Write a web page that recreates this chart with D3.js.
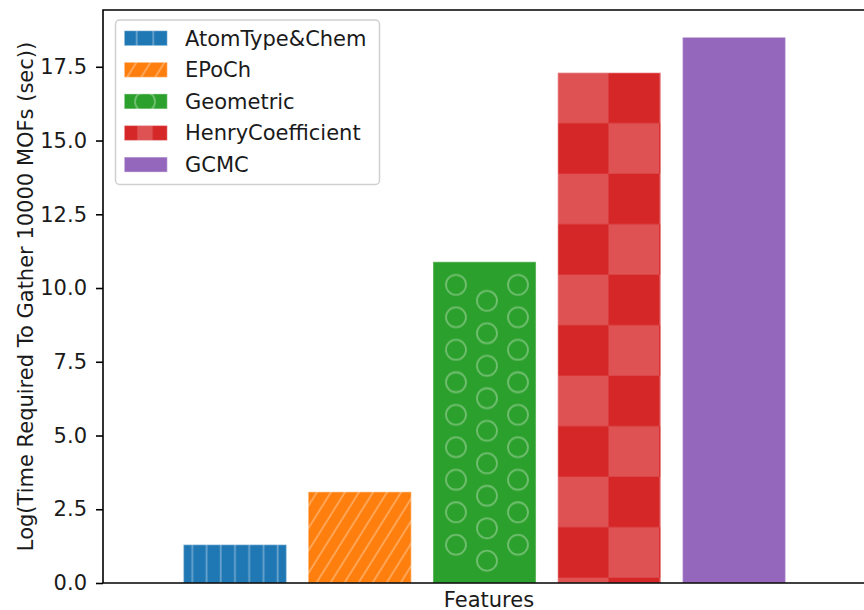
<!DOCTYPE html>
<html>
<head>
<meta charset="utf-8">
<script src="https://cdn.jsdelivr.net/npm/d3@7"></script>
<style>
  body { margin: 0; background: #fff; }
  text { font-family: "DejaVu Sans", sans-serif; }
</style>
</head>
<body>
<svg id="chart" width="864" height="610"></svg>
<script>
// data
const features = ["AtomType&Chem", "EPoCh", "Geometric", "HenryCoefficient", "GCMC"];
const logTimes = [1.30, 3.09, 10.89, 17.30, 18.50];
const colors = ["#1f77b4", "#ff7f0e", "#2ca02c", "#d62728", "#9467bd"];
const hatches = ["vline", "diag", "circle", "check", null];
const yTicks = [0, 2.5, 5, 7.5, 10, 12.5, 15, 17.5];

const svg = d3.select("#chart");
const plotL = 103, plotR = 875, plotT = 10, plotB = 583;

const x = d3.scaleLinear().domain([-1.058, 5.13]).range([plotL, plotR]);
const y = d3.scaleLinear().domain([0, 19.425]).range([plotB, plotT]);
const barW = 0.826;

const hatchCol = "rgba(255,255,255,0.32)";
const defs = svg.append("defs");

// vertical lines (bars)
const pv = defs.append("pattern").attr("id", "vline").attr("patternUnits", "userSpaceOnUse")
    .attr("width", 14.23).attr("height", 20);
pv.append("line").attr("x1", 7.3).attr("x2", 7.3).attr("y1", -1).attr("y2", 21)
    .attr("stroke", hatchCol).attr("stroke-width", 1.8);

// vertical lines (legend)
const pvl = defs.append("pattern").attr("id", "vline-leg").attr("patternUnits", "userSpaceOnUse")
    .attr("width", 16.6).attr("height", 20);
pvl.append("line").attr("x1", 3.9).attr("x2", 3.9).attr("y1", -1).attr("y2", 21)
    .attr("stroke", hatchCol).attr("stroke-width", 1.8);

// diagonal lines
const pd = defs.append("pattern").attr("id", "diag").attr("patternUnits", "userSpaceOnUse")
    .attr("width", 11.9).attr("height", 20).attr("patternTransform", "rotate(32)");
pd.append("line").attr("x1", 6).attr("x2", 6).attr("y1", -1).attr("y2", 21)
    .attr("stroke", hatchCol).attr("stroke-width", 1.8);

// circles (bars): one big tile over the bar so only whole circles appear
const circTop = y(logTimes[2]), circLeft = x(2 - barW / 2);
const pc = defs.append("pattern").attr("id", "circle").attr("patternUnits", "userSpaceOnUse")
    .attr("x", circLeft).attr("y", circTop).attr("width", 140).attr("height", plotB - circTop + 40);
d3.range(9).forEach(k => {
    [[23, 23 + 32.5 * k], [85, 23 + 32.5 * k], [54, 39 + 32.5 * k]].forEach(c => {
        pc.append("circle").attr("cx", c[0]).attr("cy", c[1]).attr("r", 10)
            .attr("fill", "none").attr("stroke", hatchCol).attr("stroke-width", 1.8);
    });
});

// circle (legend)
const pcl = defs.append("pattern").attr("id", "circle-leg").attr("patternUnits", "userSpaceOnUse")
    .attr("x", 145 - 31).attr("y", 101.7 - 20).attr("width", 62).attr("height", 40);
pcl.append("circle").attr("cx", 31).attr("cy", 20).attr("r", 10)
    .attr("fill", "none").attr("stroke", hatchCol).attr("stroke-width", 1.8);

// checker (bars)
const pk = defs.append("pattern").attr("id", "check").attr("patternUnits", "userSpaceOnUse")
    .attr("x", x(3 - barW / 2)).attr("y", y(17.30)).attr("width", 101.5).attr("height", 101);
pk.append("rect").attr("x", 0).attr("y", 0).attr("width", 50.75).attr("height", 50.5).attr("fill", "rgba(255,255,255,0.2)");
pk.append("rect").attr("x", 50.75).attr("y", 50.5).attr("width", 50.75).attr("height", 50.5).attr("fill", "rgba(255,255,255,0.2)");

// light stripe (legend)
const pkl = defs.append("pattern").attr("id", "check-leg").attr("patternUnits", "userSpaceOnUse")
    .attr("x", 137.3).attr("y", 0).attr("width", 60).attr("height", 40);
pkl.append("rect").attr("x", 0).attr("y", 0).attr("width", 15.4).attr("height", 40).attr("fill", "rgba(255,255,255,0.2)");

// bars
const bars = svg.append("g");
features.forEach((f, i) => {
    const x0 = x(i - barW / 2), w = x(i + barW / 2) - x(i - barW / 2);
    bars.append("rect").attr("x", x0).attr("y", y(logTimes[i]))
        .attr("width", w).attr("height", y(0) - y(logTimes[i])).attr("fill", colors[i]);
    if (hatches[i]) {
        bars.append("rect").attr("x", x0).attr("y", y(logTimes[i]))
            .attr("width", w).attr("height", y(0) - y(logTimes[i]))
            .attr("fill", `url(#${hatches[i]})`);
    }
    bars.append("rect").attr("x", x0).attr("y", y(logTimes[i]))
        .attr("width", w).attr("height", y(0) - y(logTimes[i]))
        .attr("fill", "none").attr("stroke", "rgba(255,255,255,0.35)").attr("stroke-width", 1.4);
});

// y axis
const yAxis = svg.append("g").attr("transform", `translate(${plotL},0)`)
    .call(d3.axisLeft(y).tickValues(yTicks).tickFormat(d3.format(".1f")).tickSizeOuter(0).tickSize(7));
yAxis.select(".domain").remove();
yAxis.selectAll(".tick line").attr("stroke", "#000").attr("stroke-width", 1.6);
yAxis.selectAll(".tick text").attr("font-size", 21).attr("fill", "#1a1a1a")
    .attr("font-family", "DejaVu Sans").attr("x", -16);

// spines
svg.append("path")
    .attr("d", `M${plotL},${plotB}V${plotT}H${plotR}`)
    .attr("fill", "none").attr("stroke", "#000").attr("stroke-width", 1.6);
svg.append("line").attr("x1", plotL).attr("x2", plotR).attr("y1", plotB).attr("y2", plotB)
    .attr("stroke", "#000").attr("stroke-width", 1.6);

// labels
svg.append("text").attr("x", (plotL + plotR) / 2).attr("y", 606.5)
    .attr("text-anchor", "middle").attr("font-size", 21).attr("fill", "#1a1a1a").text("Features");
svg.append("text").attr("transform", `translate(33,${(plotT + plotB) / 2}) rotate(-90)`)
    .attr("text-anchor", "middle").attr("font-size", 21).attr("fill", "#1a1a1a")
    .text("Log(Time Required To Gather 10000 MOFs (sec))");

// legend
const legendPat = ["vline-leg", "diag", "circle-leg", "check-leg", null];
const leg = svg.append("g");
leg.append("rect").attr("x", 115.5).attr("y", 20).attr("width", 264).attr("height", 164.5)
    .attr("rx", 4).attr("fill", "rgba(255,255,255,0.8)").attr("stroke", "#d0d0d0").attr("stroke-width", 1.5);
features.forEach((f, i) => {
    const cy = 38.2 + i * 31.6;
    leg.append("rect").attr("x", 124.3).attr("y", cy - 7.5).attr("width", 43).attr("height", 15)
        .attr("fill", colors[i]);
    if (legendPat[i]) {
        leg.append("rect").attr("x", 124.3).attr("y", cy - 7.5).attr("width", 43).attr("height", 15)
            .attr("fill", `url(#${legendPat[i]})`);
    }
    leg.append("rect").attr("x", 124.3).attr("y", cy - 7.5).attr("width", 43).attr("height", 15)
        .attr("fill", "none").attr("stroke", "rgba(255,255,255,0.35)").attr("stroke-width", 1.2);
    leg.append("text").attr("x", 185).attr("y", cy).attr("dy", "0.35em")
        .attr("font-size", 21).attr("fill", "#1a1a1a").text(f);
});
</script>
</body>
</html>
